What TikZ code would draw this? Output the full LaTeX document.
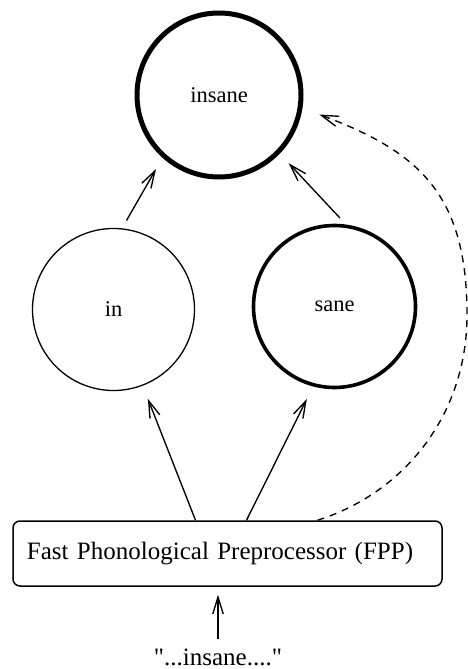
\documentclass[tikz,border=0pt]{standalone}
\usepackage{fontspec}
\setmainfont{Liberation Serif}[Ligatures=TeXOff]
\usetikzlibrary{arrows.meta}

\begin{document}
\begin{tikzpicture}[x=1pt,y=-1pt,
  unit/.style={circle, draw, minimum size=162pt, inner sep=0pt,
    font=\fontsize{22.5}{27}\selectfont},
  arr/.style={line width=1.35pt, -{Straight Barb[length=17pt,width=10.5pt]}},
  every node/.style={font=\fontsize{25}{30}\selectfont}]

  \useasboundingbox (0,0) rectangle (468,669);

  % Word units
  \node[unit, line width=5pt, minimum size=164pt] (insane) at (219,95) {insane};
  \node[unit, line width=1.3pt] (in) at (113.5,309.5) {in};
  \node[unit, line width=3.6pt] (sane) at (334.5,306.5) {sane};

  % Preprocessor and input
  \node[draw, line width=1.5pt, rounded corners=7pt, text width=401pt,
    align=left, inner xsep=14pt, minimum height=65pt] (fpp) at (227.5,553.5)
    {Fast Phonological Preprocessor (FPP)};
  \node[anchor=base, inner sep=2pt] (input) at (218,665) {"...insane...."};

  % Activation arrows
  \draw[arr, shorten <=9pt, shorten >=13pt] (in.84) -- (insane.228);
  \draw[arr, shorten <=9pt, shorten >=13pt] (sane.82) -- (insane.316);
  \draw[arr, shorten >=14pt] ([xshift=-32pt]fpp.north) -- (in.291);
  \draw[arr, shorten >=14pt] ([xshift=19pt]fpp.north) -- (sane.255);
  \draw[arr, shorten <=7pt, shorten >=8pt] (input.north) -- (input.north |- fpp.south);

  % Direct route
  \coordinate (bend) at (467,315);
  \draw[arr, dash pattern=on 7pt off 6pt, shorten >=18pt]
    ([xshift=90pt]fpp.north) .. controls (404,493) and (467,415) .. (bend)
    .. controls (467,195) and (420,152) .. (insane.351);
\end{tikzpicture}
\end{document}
